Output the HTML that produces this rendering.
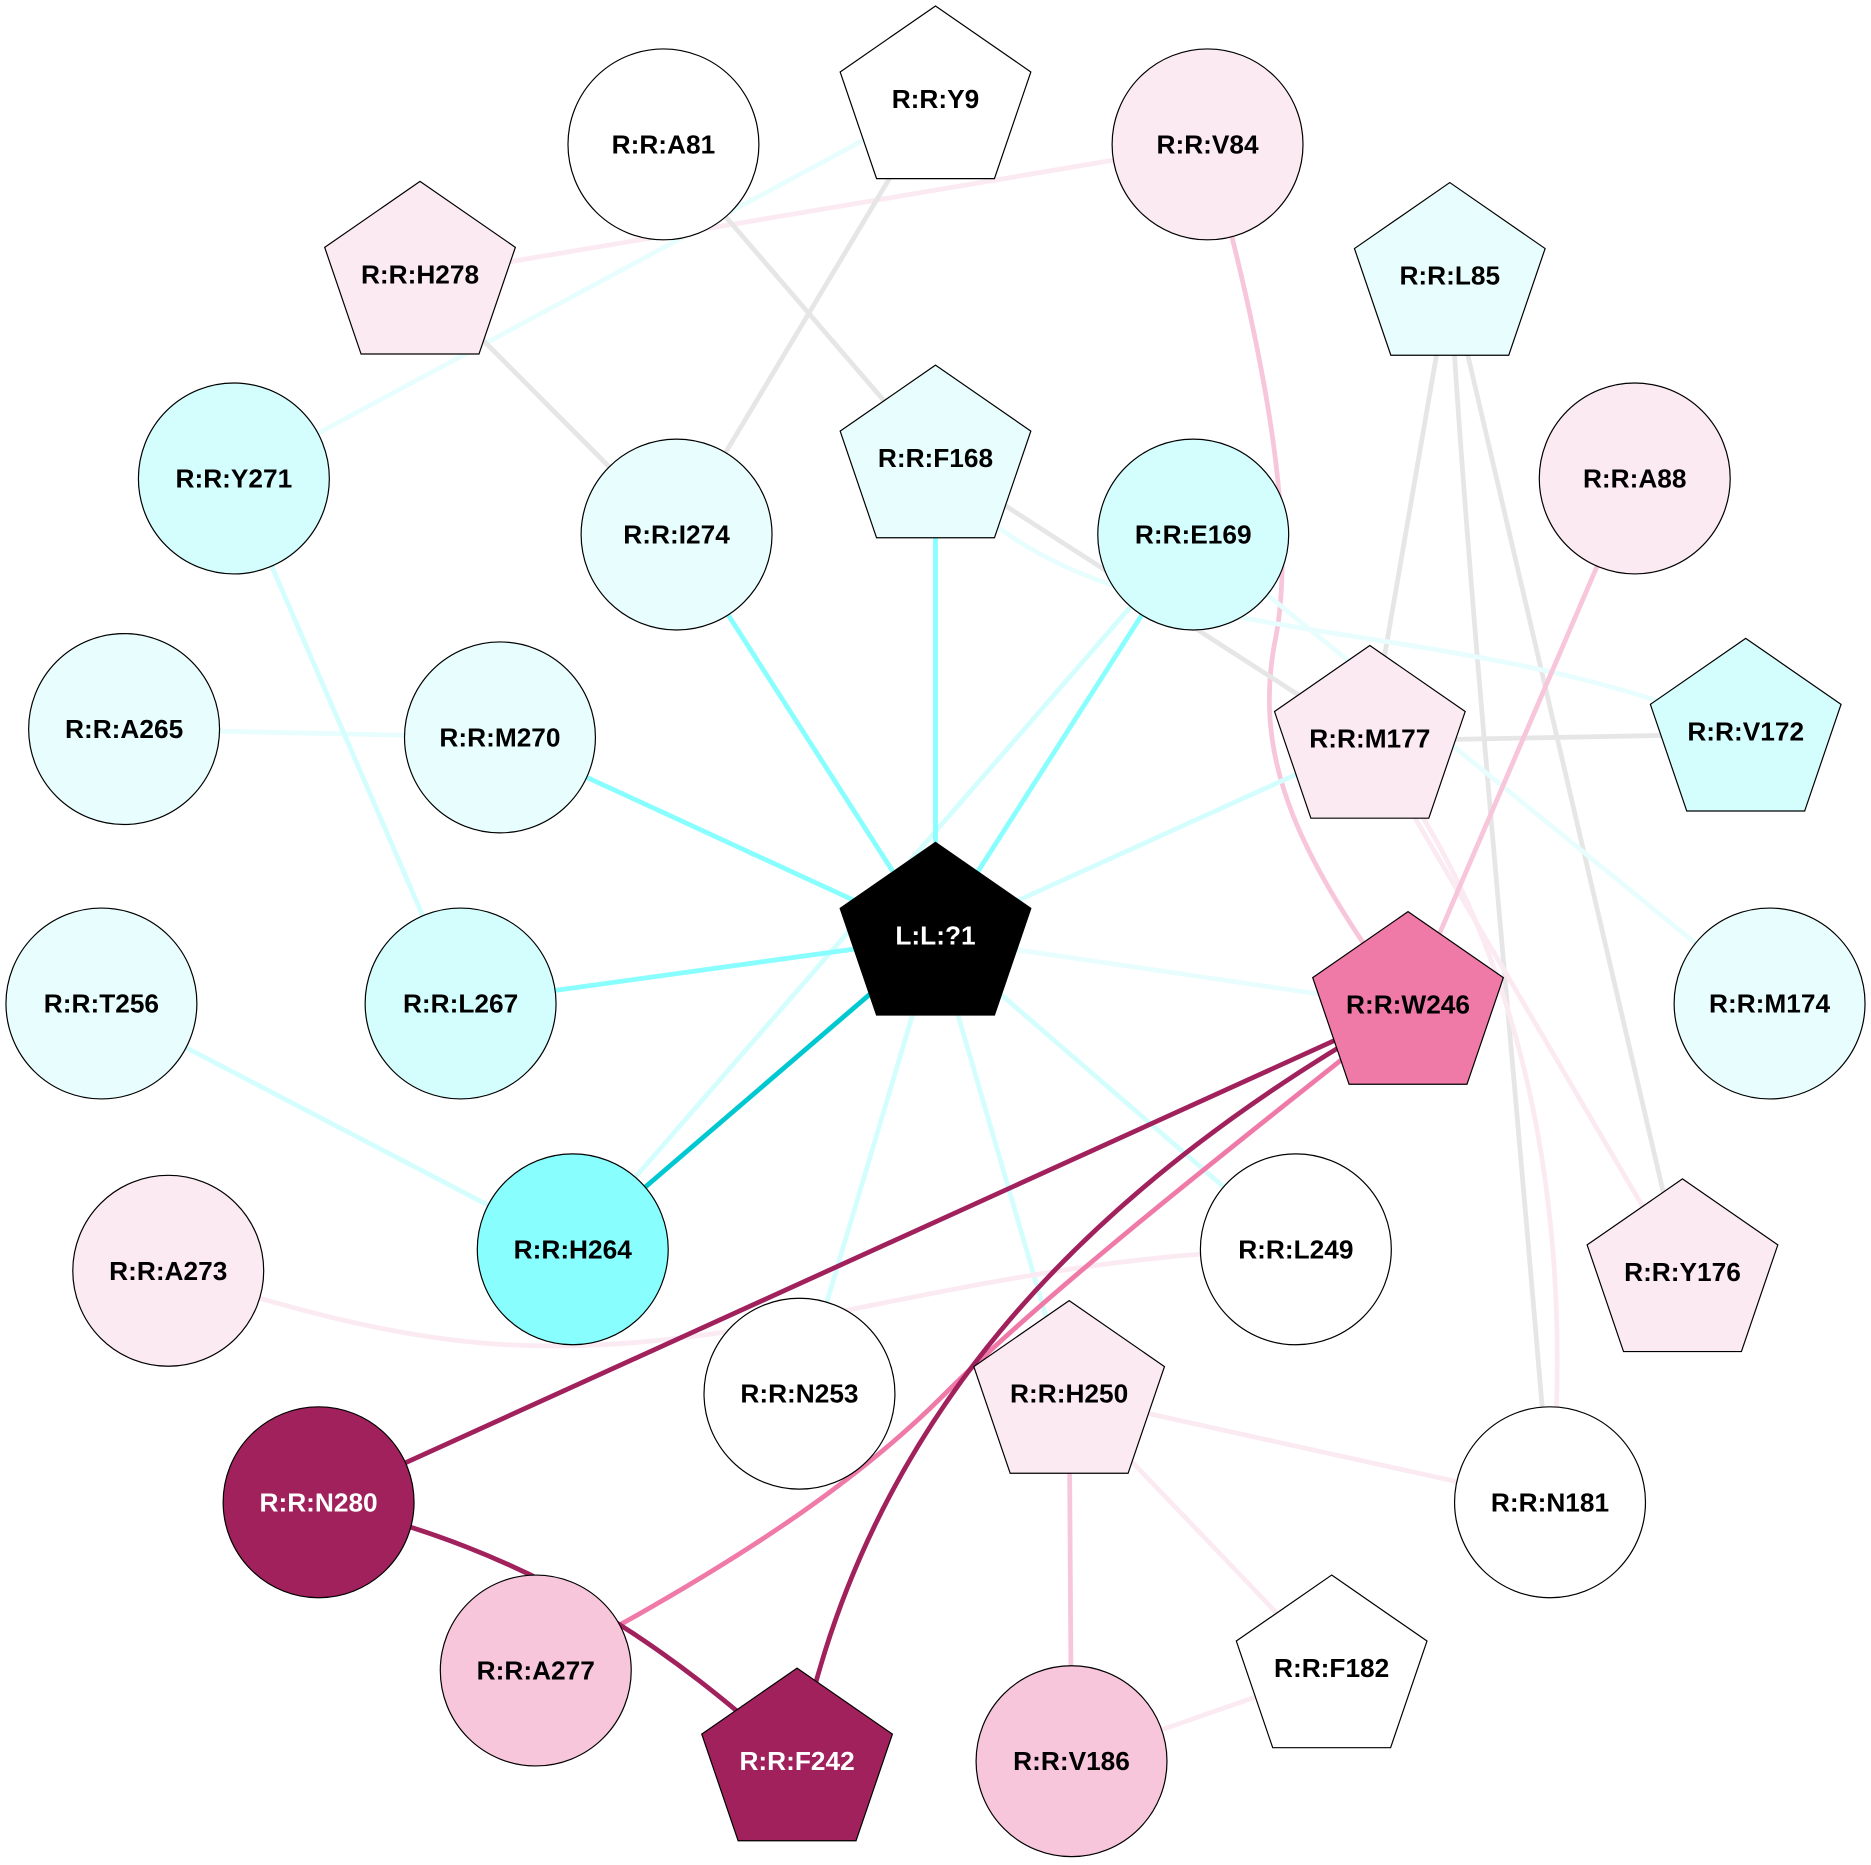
<!DOCTYPE html>
<html><head><meta charset="utf-8"><style>
html,body{margin:0;padding:0;background:#fff}
svg{display:block}
text{font-family:"Liberation Sans",Arial,sans-serif;font-weight:bold;font-size:22px;text-anchor:middle;dominant-baseline:central}
</style></head><body>
<svg width="1871" height="1865" viewBox="0 0 1568 1563" preserveAspectRatio="none" xmlns="http://www.w3.org/2000/svg">
<g fill="none" stroke-width="4">
<path d="M196,401 L784,85" stroke="#e8fefe"/>
<path d="M352,232 L1012,121" stroke="#fbeaf2"/>
<path d="M352,232 L567,448" stroke="#e6e6e6"/>
<path d="M556,121 L784,386" stroke="#e6e6e6"/>
<path d="M784,85 L567,448" stroke="#e6e6e6"/>
<path d="M1012,121 C1070,330 1085,460 1068,540 C1050,640 1090,720 1180,844" stroke="#f8c6da"/>
<path d="M1215,233 L1148,621" stroke="#e6e6e6"/>
<path d="M1215,233 C1230,500 1270,900 1299,1259" stroke="#e6e6e6"/>
<path d="M1215,233 L1410,1068" stroke="#e6e6e6"/>
<path d="M784,386 L1148,621" stroke="#e6e6e6"/>
<path d="M784,386 C900,560 1200,500 1463,615" stroke="#e8fefe"/>
<path d="M1000,448 L1483,841" stroke="#e8fefe"/>
<path d="M1000,448 L480,1047" stroke="#d4fefe"/>
<path d="M104,611 L419,618" stroke="#e8fefe"/>
<path d="M196,401 L386,841" stroke="#d4fefe"/>
<path d="M1148,621 L1463,615" stroke="#e6e6e6"/>
<path d="M1148,621 L1410,1068" stroke="#fbeaf2"/>
<path d="M1148,621 C1290,800 1320,1050 1299,1259" stroke="#fbeaf2"/>
<path d="M784,786 L1148,621" stroke="#d4fefe"/>
<path d="M784,786 L1180,844" stroke="#e8fefe"/>
<path d="M784,786 L670,1168" stroke="#d4fefe"/>
<path d="M784,786 L896,1170" stroke="#d4fefe"/>
<path d="M784,786 L1086,1047" stroke="#d4fefe"/>
<path d="M85,841 L480,1047" stroke="#d4fefe"/>
<path d="M141,1065 C350,1130 450,1150 700,1100 C850,1070 950,1050 1086,1047" stroke="#fbeaf2"/>
<path d="M896,1170 L1299,1259" stroke="#fbeaf2"/>
<path d="M896,1170 L1116,1400" stroke="#fbeaf2"/>
<path d="M898,1476 L1116,1400" stroke="#fbeaf2"/>
<path d="M896,1170 L898,1476" stroke="#f8c6da"/>
<path d="M1370,401 L1180,844" stroke="#f8c6da"/>
<path d="M784,386 L784,786" stroke="#88fefe"/>
<path d="M567,448 L784,786" stroke="#88fefe"/>
<path d="M1000,448 L784,786" stroke="#88fefe"/>
<path d="M419,618 L784,786" stroke="#88fefe"/>
<path d="M386,841 L784,786" stroke="#88fefe"/>
<path d="M480,1047 L784,786" stroke="#00c8d0"/>
<path d="M1180,844 C1040,955 880,1080 790,1170 C720,1240 620,1310 449,1400" stroke="#ef7aa8"/>
<path d="M1180,844 C900,1000 720,1200 668,1478" stroke="#a0215c"/>
<path d="M1180,844 L267,1259" stroke="#a0215c"/>
<path d="M267,1259 C450,1300 560,1380 668,1478" stroke="#a0215c"/>
</g>
<g stroke="#000" stroke-width="1">
<circle cx="556" cy="121" r="80" fill="#fff"/>
<circle cx="1012" cy="121" r="80" fill="#fbeaf2"/>
<circle cx="196" cy="401" r="80" fill="#d4fefe"/>
<circle cx="567" cy="448" r="80" fill="#e8fefe"/>
<circle cx="1000" cy="448" r="80" fill="#d4fefe"/>
<circle cx="1370" cy="401" r="80" fill="#fbeaf2"/>
<circle cx="104" cy="611" r="80" fill="#e8fefe"/>
<circle cx="419" cy="618" r="80" fill="#e8fefe"/>
<circle cx="85" cy="841" r="80" fill="#e8fefe"/>
<circle cx="386" cy="841" r="80" fill="#d4fefe"/>
<circle cx="1483" cy="841" r="80" fill="#e8fefe"/>
<circle cx="480" cy="1047" r="80" fill="#88fefe"/>
<circle cx="141" cy="1065" r="80" fill="#fbeaf2"/>
<circle cx="1086" cy="1047" r="80" fill="#fff"/>
<circle cx="670" cy="1168" r="80" fill="#fff"/>
<circle cx="1299" cy="1259" r="80" fill="#fff"/>
<circle cx="267" cy="1259" r="80" fill="#a0215c"/>
<circle cx="449" cy="1400" r="80" fill="#f8c6da"/>
<circle cx="898" cy="1476" r="80" fill="#f8c6da"/>
</g>
<g stroke="#000" stroke-width="1" id="pents"></g>
<g id="labels">
<text x="556" y="121">R:R:A81</text>
<text x="1012" y="121">R:R:V84</text>
<text x="196" y="401">R:R:Y271</text>
<text x="567" y="448">R:R:I274</text>
<text x="1000" y="448">R:R:E169</text>
<text x="1370" y="401">R:R:A88</text>
<text x="104" y="611">R:R:A265</text>
<text x="419" y="618">R:R:M270</text>
<text x="85" y="841">R:R:T256</text>
<text x="386" y="841">R:R:L267</text>
<text x="1483" y="841">R:R:M174</text>
<text x="480" y="1047">R:R:H264</text>
<text x="141" y="1065">R:R:A273</text>
<text x="1086" y="1047">R:R:L249</text>
<text x="670" y="1168">R:R:N253</text>
<text x="1299" y="1259">R:R:N181</text>
<text x="267" y="1259" fill="#fff">R:R:N280</text>
<text x="449" y="1400">R:R:A277</text>
<text x="898" y="1476">R:R:V186</text>
</g>
<script>
(function(){
var P=[[784,85,"#fff","R:R:Y9","#000"],[352,232,"#fbeaf2","R:R:H278","#000"],[1215,233,"#e8fefe","R:R:L85","#000"],
[784,386,"#e8fefe","R:R:F168","#000"],[1148,621,"#fbeaf2","R:R:M177","#000"],[1463,615,"#d4fefe","R:R:V172","#000"],
[784,786,"#000","L:L:?1","#fff"],[1180,844,"#ef7aa8","R:R:W246","#000"],[1410,1068,"#fbeaf2","R:R:Y176","#000"],
[896,1170,"#fbeaf2","R:R:H250","#000"],[668,1478,"#a0215c","R:R:F242","#fff"],[1116,1400,"#fff","R:R:F182","#000"]];
var ns="http://www.w3.org/2000/svg",g=document.getElementById("pents"),L=document.getElementById("labels");
P.forEach(function(p){var R=80,pts=[];for(var i=0;i<5;i++){var a=-Math.PI/2+i*2*Math.PI/5;pts.push((p[0]+1.05*R*Math.cos(a)).toFixed(1)+","+(p[1]+R*Math.sin(a)).toFixed(1));}
var e=document.createElementNS(ns,"polygon");e.setAttribute("points",pts.join(" "));e.setAttribute("fill",p[2]);g.appendChild(e);
var t=document.createElementNS(ns,"text");t.setAttribute("x",p[0]);t.setAttribute("y",p[1]-2);t.setAttribute("fill",p[4]);t.textContent=p[3];L.appendChild(t);});
})();
</script>
</svg>
</body></html>
